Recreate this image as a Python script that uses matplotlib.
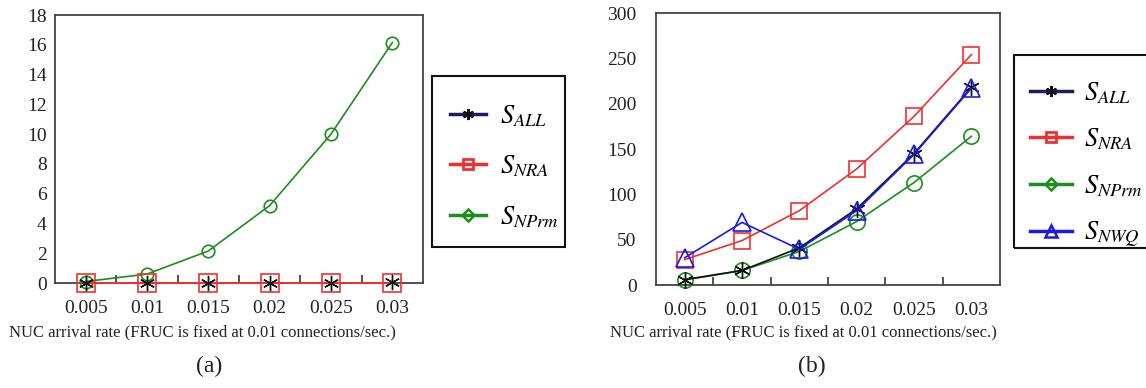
import matplotlib
matplotlib.use("Agg")
import matplotlib.pyplot as plt
from matplotlib.lines import Line2D
from matplotlib.patches import Rectangle

plt.rcParams['font.family'] = ['Liberation Serif', 'DejaVu Serif']
plt.rcParams['mathtext.fontset'] = 'stix'

categories = ['0.005', '0.01', '0.015', '0.02', '0.025', '0.03']

# Panel (a)
a_all = [0.0, 0.0, 0.0, 0.0, 0.0, 0.1]
a_nra = [0.0, 0.0, 0.0, 0.0, 0.0, 0.0]
a_nprm = [0.1, 0.6, 2.15, 5.2, 10.0, 16.15]

# Panel (b)
b_all = [6, 16, 41, 84, 145, 218]
b_nra = [28, 49, 82, 128, 186, 254]
b_nprm = [5.5, 16, 37, 70, 113, 164]
b_nwq = [30, 69, 39.5, 82, 144, 217]

yticks_a = list(range(0, 19, 2))
yticks_b = list(range(0, 301, 50))

xlabel = 'NUC arrival rate (FRUC is fixed at 0.01 connections/sec.)'

C_ALL = '#1c1c5e'
C_NRA = '#f03030'
C_NPRM = '#1e8c1e'
C_NWQ = '#1a1ae6'

W, H = 1146, 388
fig = plt.figure(figsize=(W / 100, H / 100), dpi=100)

def fx(px):
    return px / W

def fy(py):
    return 1 - py / H

axa = fig.add_axes([fx(55), fy(283), fx(423 - 55), (283 - 15) / H])
axb = fig.add_axes([fx(656), fy(285), fx(1000 - 656), (285 - 13) / H])

x = list(range(len(categories)))

def style(ax, ymax, yticks, ypad):
    ax.set_xlim(-0.5, len(categories) - 0.5)
    ax.set_ylim(0, ymax)
    ax.set_yticks(yticks)
    ax.set_xticks(x)
    ax.set_xticklabels(categories)
    ax.set_xticks([i + 0.5 for i in range(len(categories) - 1)], minor=True)
    ax.tick_params(axis='x', which='major', length=0, pad=12, labelsize=14, colors='#222222')
    ax.tick_params(axis='x', which='minor', length=6, direction='in', width=1.2, color='#333333')
    ax.tick_params(axis='y', length=0, pad=ypad, labelsize=14, colors='#222222')
    for s in ax.spines.values():
        s.set_color('#444444')
        s.set_linewidth(1.3)

# Panel (a) plot
axa.plot(x, a_nprm, color=C_NPRM, lw=1.2, marker='o', ms=9, mfc='none', mec=C_NPRM, mew=1.2, clip_on=False, zorder=3)
axa.plot(x, a_nra, color=C_NRA, lw=1.4, marker='s', ms=13, mfc='none', mec=C_NRA, mew=1.2, clip_on=False, zorder=4)
axa.plot(x, a_all, color=C_ALL, lw=0, marker=(6, 2, 0), ms=11, mec='#111111', mew=1.0, clip_on=False, zorder=5)
style(axa, 18, yticks_a, 6)

# Panel (b) plot
axb.plot(x, b_nra, color=C_NRA, lw=1.2, marker='s', ms=11, mfc='none', mec=C_NRA, mew=1.2, clip_on=False, zorder=3)
axb.plot(x, b_nprm, color=C_NPRM, lw=1.2, marker='o', ms=11, mfc='none', mec=C_NPRM, mew=1.2, clip_on=False, zorder=3)
axb.plot(x, b_all, color='#111111', lw=1.2, marker=(6, 2, 0), ms=12, mec='#111111', mew=1.0, clip_on=False, zorder=4)
axb.plot(x, b_nwq, color=C_NWQ, lw=1.2, marker='^', ms=13, mfc='none', mec=C_NWQ, mew=1.2, clip_on=False, zorder=5)
style(axb, 300, yticks_b, 14)

def h_all():
    return Line2D([], [], color=C_ALL, lw=2.5, marker=(6, 2, 0), ms=8, mec='#111111', mew=1.5)

def h_nra():
    return Line2D([], [], color=C_NRA, lw=2.5, marker='s', ms=7, mfc='none', mec=C_NRA, mew=2)

def h_nprm():
    return Line2D([], [], color=C_NPRM, lw=2.5, marker='D', ms=6, mfc='none', mec=C_NPRM, mew=1.8)

def h_nwq():
    return Line2D([], [], color=C_NWQ, lw=2.5, marker='^', ms=8, mfc='none', mec=C_NWQ, mew=1.8)

leg_kw = dict(loc='upper left', borderaxespad=0, frameon=False, borderpad=0,
              prop={'size': 19})

la = fig.legend([h_all(), h_nra(), h_nprm()],
                [r'$S_{ALL}$', r'$S_{NRA}$', r'$S_{NPrm}$'],
                bbox_to_anchor=(fx(450), fy(103)), labelspacing=0.95,
                handlelength=1.35, handletextpad=0.55, **leg_kw)

lb = fig.legend([h_all(), h_nra(), h_nprm(), h_nwq()],
                [r'$S_{ALL}$', r'$S_{NRA}$', r'$S_{NPrm}$', r'$S_{NWQ}$'],
                bbox_to_anchor=(fx(1030), fy(80)), labelspacing=0.8,
                handlelength=1.6, handletextpad=0.45, **leg_kw)

fig.add_artist(Rectangle((fx(432), fy(247)), fx(565 - 432), (247 - 76) / H,
                         transform=fig.transFigure, fill=False, ec='#111111', lw=1.5))
fig.add_artist(Rectangle((fx(1014), fy(248)), fx(1160 - 1014), (248 - 55) / H,
                         transform=fig.transFigure, fill=False, ec='#111111', lw=1.5))

fig.text(fx(202), fy(332), xlabel, ha='center', va='center', fontsize=12, color='#222222')
fig.text(fx(209), fy(366), '(a)', ha='center', va='center', fontsize=17, color='#222222')
fig.text(fx(803), fy(332), xlabel, ha='center', va='center', fontsize=12, color='#222222')
fig.text(fx(812), fy(366), '(b)', ha='center', va='center', fontsize=17, color='#222222')

fig.savefig('out.png', dpi=100)
